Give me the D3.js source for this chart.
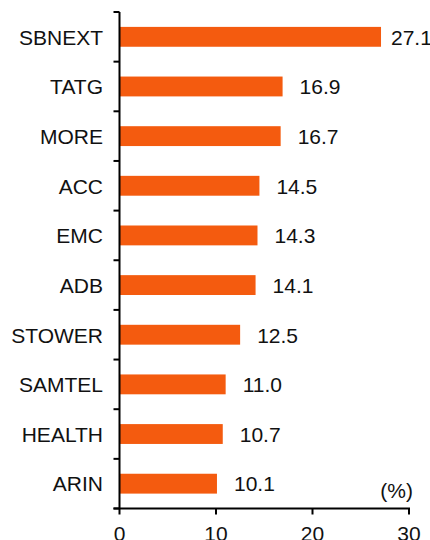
<html>
  <head>
    <script src="https://d3js.org/d3.v7.min.js"></script>
    <style>
      body { margin: 0; background: #fff; }
      text { font-family: "Liberation Sans", Arial, sans-serif; font-size: 21px; fill: #111; }
    </style>
  </head>
  <body>
    <div id="chart"></div>
    <script>
      var names = ["SBNEXT", "TATG", "MORE", "ACC", "EMC", "ADB", "STOWER", "SAMTEL", "HEALTH", "ARIN"];
      var values = [27.1, 16.9, 16.7, 14.5, 14.3, 14.1, 12.5, 11.0, 10.7, 10.1];
      var xTicks = [0, 10, 20, 30];
      var unitLabel = "(%)";

      var width = 430, height = 540;
      var mLeft = 119.5, mRight = 409, mTop = 12, mBottom = 508.5;

      var svg = d3.select("#chart").append("svg")
          .attr("width", width).attr("height", height);

      var x = d3.scaleLinear().domain([0, 30]).range([mLeft, mRight]);
      var y = d3.scaleBand().domain(names).range([mTop, mBottom]).paddingInner(0.6).paddingOuter(0.3);
      var yb = d3.scaleLinear().domain([0, names.length]).range([mTop, mBottom]);

      // bars
      svg.selectAll("rect.bar")
          .data(values)
          .enter().append("rect")
          .attr("class", "bar")
          .attr("x", x(0))
          .attr("y", function(d, i) { return y(names[i]); })
          .attr("width", function(d) { return x(d) - x(0); })
          .attr("height", y.bandwidth())
          .attr("fill", "#F45B0F");

      function label(txt, px, py, anchor) {
        return svg.append("text")
            .attr("x", px).attr("y", py)
            .attr("text-anchor", anchor)
            .text(txt);
      }

      // category labels
      names.forEach(function(n) {
        label(n, 103, y(n) + y.bandwidth() / 2 + 7.8, "end");
      });

      // value labels (the longest one is pulled in, as in the original)
      values.forEach(function(v, i) {
        var px = Math.min(x(v) + 17, 391);
        label(v.toFixed(1), px, y(names[i]) + y.bandwidth() / 2 + 7.8, "start");
      });

      // y axis line and boundary ticks
      svg.append("line")
          .attr("x1", mLeft).attr("x2", mLeft)
          .attr("y1", mTop).attr("y2", mBottom)
          .attr("stroke", "#000").attr("stroke-width", 2);
      d3.range(names.length + 1).forEach(function(k) {
        svg.append("line")
            .attr("x1", mLeft - 6).attr("x2", mLeft)
            .attr("y1", yb(k)).attr("y2", yb(k))
            .attr("stroke", "#000").attr("stroke-width", 2);
      });

      // x axis
      svg.append("line")
          .attr("x1", mLeft - 6).attr("x2", mRight + 1)
          .attr("y1", mBottom).attr("y2", mBottom)
          .attr("stroke", "#000").attr("stroke-width", 2);
      xTicks.forEach(function(t) {
        svg.append("line")
            .attr("x1", x(t)).attr("x2", x(t))
            .attr("y1", mBottom).attr("y2", mBottom + 6)
            .attr("stroke", "#000").attr("stroke-width", 2);
        label(String(t), x(t), 540.5, "middle");
      });

      label(unitLabel, 413, 498, "end");
    </script>
  </body>
</html>
